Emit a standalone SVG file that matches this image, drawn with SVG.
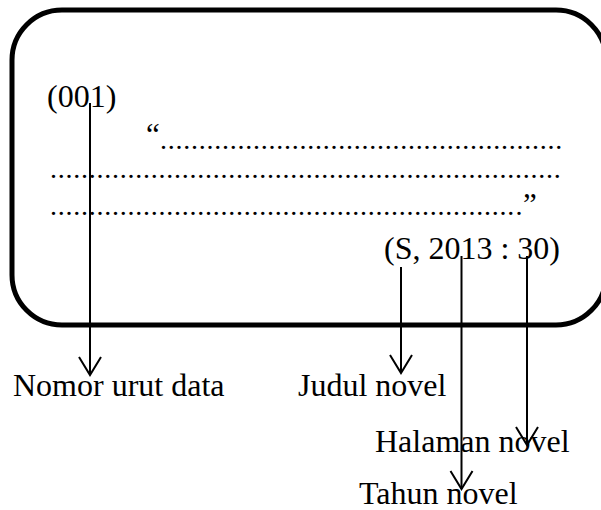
<svg xmlns="http://www.w3.org/2000/svg" width="601" height="510" viewBox="0 0 601 510">
<defs>
<style>
.t{font-family:"Liberation Serif","Times New Roman",serif;font-size:32px;fill:#000}
.d{font-family:"Liberation Serif","Times New Roman",serif;font-size:28px;letter-spacing:0.75px;fill:#000}
.q{font-family:"Liberation Serif","Times New Roman",serif;font-size:31px;letter-spacing:0;fill:#000}
.c{stroke:#000;stroke-width:2;fill:none}
</style>
<marker id="ah" markerUnits="userSpaceOnUse" orient="auto" refX="0" refY="0" markerWidth="30" markerHeight="30" overflow="visible">
<path d="M-18,-11 L0,0 L-18,11" fill="none" stroke="#000" stroke-width="2"/>
</marker>
</defs>
<rect width="601" height="510" fill="#fff"/>
<g id="box">
<rect x="12" y="10" width="594" height="315" rx="50" ry="50" fill="none" stroke="#000" stroke-width="5"/>
<text class="t" x="47" y="107">(001)</text>
<text class="q" x="146" y="145">“<tspan class="d" x="160" y="149">....................................................</tspan></text>
<text class="d" x="50" y="178">..................................................................</text>
<text class="d" x="50" y="215">............................................................<tspan x="515.5">.</tspan><tspan class="q" x="523">”</tspan></text>
<text class="t" x="384" y="259">(S, 2013 : 30)</text>
</g>
<g id="connectors">
<line class="c" x1="90" y1="103" x2="90" y2="375" marker-end="url(#ah)"/>
<line class="c" x1="401" y1="267" x2="401" y2="373" marker-end="url(#ah)"/>
<line class="c" x1="461.5" y1="256" x2="461.5" y2="489" marker-end="url(#ah)"/>
<line class="c" x1="527" y1="256" x2="527" y2="445" marker-end="url(#ah)"/>
</g>
<g id="label-nomor"><text class="t" x="13" y="396">Nomor urut data</text></g>
<g id="label-judul"><text class="t" x="298" y="396">Judul novel</text></g>
<g id="label-halaman"><text class="t" x="375" y="452">Halaman novel</text></g>
<g id="label-tahun"><text class="t" x="359" y="504">Tahun novel</text></g>
</svg>
